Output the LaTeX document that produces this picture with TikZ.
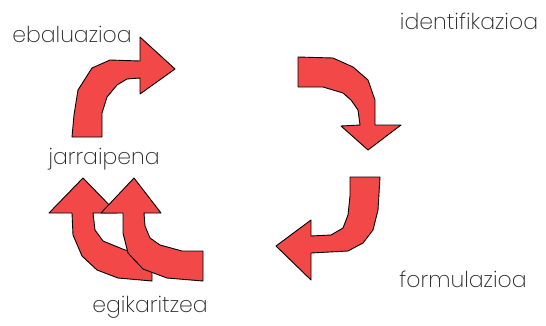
\documentclass[tikz,border=0pt]{standalone}
\usepackage{fontspec}
\setmainfont{Poppins}[UprightFont={* ExtraLight}]
\usepackage{xcolor}
\definecolor{arrowred}{RGB}{242,72,72}
\definecolor{labelgray}{RGB}{40,40,40}

\begin{document}
\begin{tikzpicture}[x=1pt,y=-1pt]
    \tikzstyle{bend arrow}=[fill=arrowred, draw=black, line width=0.9pt, line join=round]
    \tikzstyle{stage}=[text=labelgray, font=\fontsize{22}{26}\selectfont, inner sep=0pt]
    \useasboundingbox (0,0) rectangle (546,325);

    % ebaluazioa -> identifikazioa
    \filldraw [bend arrow] (72,137) -- (74,115) -- (78,90) -- (92,68) -- (110,60) -- (140,61)
        -- (140,37) -- (175,69) -- (140,94) -- (140,78) -- (127,79) -- (117,85)
        -- (107,97) -- (102,113) -- (102,137) -- cycle;

    % identifikazioa -> formulazioa
    \filldraw [bend arrow] (298,57) -- (333,58) -- (353,67) -- (368,80) -- (375,100) -- (375,125)
        -- (401,125) -- (368,150) -- (341,126) -- (360,125) -- (358,110) -- (351,100)
        -- (343,93) -- (323,87) -- (298,87) -- cycle;

    % formulazioa -> egikaritzea
    \filldraw [bend arrow] (380,177) -- (378,210) -- (373,230) -- (363,243) -- (348,251) -- (311,253)
        -- (311,280) -- (276,246) -- (311,220) -- (311,236) -- (331,235) -- (343,228)
        -- (348,215) -- (350,196) -- (350,177) -- cycle;

    % egikaritzea -> jarraipena (two arrows)
    \filldraw [bend arrow] (83,178) -- (117,213) -- (93,213) -- (95,230) -- (103,241) -- (125,250)
        -- (152,252) -- (152,281) -- (118,278) -- (97,270) -- (82,256) -- (73,235)
        -- (72,213) -- (49,213) -- cycle;
    \filldraw [bend arrow] (134,178) -- (161,213) -- (144,213) -- (145,226) -- (150,238) -- (160,245)
        -- (182,251) -- (203,251) -- (203,281) -- (167,278) -- (143,269) -- (128,253)
        -- (123,233) -- (123,213) -- (101,213) -- cycle;

    % labels
    \node [stage] (ebal) at (72,34) {ebaluazioa};
    \node [stage] (ident) at (469,21) {identifikazioa};
    \node [stage] (jarr) at (104,159) {jarraipena};
    \node [stage] (egik) at (150,307) {egikaritzea};
    \node [stage] (form) at (463,279) {formulazioa};
\end{tikzpicture}
\end{document}
